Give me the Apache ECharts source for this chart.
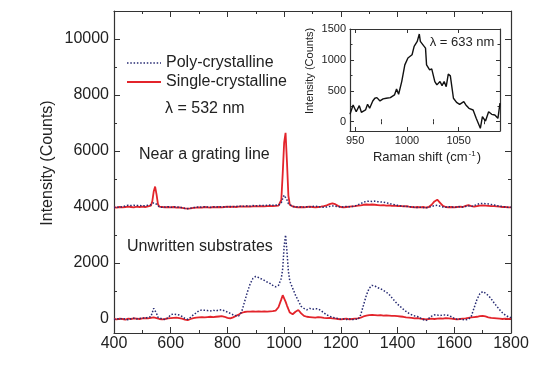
<!DOCTYPE html>
<html>
<head>
<meta charset="utf-8">
<script src="https://cdn.jsdelivr.net/npm/echarts@6/dist/echarts.min.js"></script>
<style>html,body{margin:0;padding:0;background:#fff;}#c{width:544px;height:372px;}</style>
</head>
<body>
<div id="c"></div>
<script>
// Raman shift grid (cm^-1) shared by the 532 nm spectra
const ramanShift = [
  400,410,420,430,440,450,460,470,480,490,500,510,520,530,
  535,540,545,550,555,560,
  570,580,590,600,610,620,630,640,650,660,
  670,680,690,700,710,720,730,740,750,760,
  770,780,790,800,810,820,830,840,850,860,
  870,880,890,900,910,920,930,940,950,960,
  970,980,
  990,995,1000,1005,1010,1015,1020,
  1030,1040,1050,1060,1070,1080,1090,1100,1110,1120,
  1130,1140,1150,1160,1170,1180,1190,1200,1210,1220,
  1230,1240,1250,1260,1270,1280,1290,1300,1310,1320,
  1330,1340,1350,1360,1370,1380,1390,1400,1410,1420,
  1430,1440,1450,1460,1470,1480,1490,1500,1510,1520,
  1530,1540,1550,1560,1570,1580,1590,1600,1610,1620,
  1630,1640,1650,1660,1670,1680,1690,1700,1710,1720,
  1730,1740,1750,1760,1770,1780,1790,1800
];
// Unwritten substrates, poly-crystalline
const polyUnwritten = [
  -20,10,-10,20,0,-30,10,30,0,20,40,30,60,80,
  150,380,420,200,60,20,
  0,-20,40,150,180,160,140,90,20,-10,
  60,150,220,300,320,310,300,290,310,290,
  320,330,290,250,200,150,120,110,250,600,
  950,1250,1450,1520,1480,1430,1380,1320,1270,1200,
  1150,1200,
  1450,1800,2600,3000,2400,1700,1350,
  1100,850,650,450,380,330,380,350,370,360,
  300,220,150,100,60,40,20,-10,0,-20,
  10,-30,0,-20,150,500,850,1100,1200,1180,
  1120,1080,1020,960,880,760,640,530,440,350,
  270,200,150,110,90,40,-20,-60,20,100,
  150,140,120,150,140,130,80,20,-10,0,
  -20,-30,-10,100,400,700,900,980,920,840,
  720,580,450,330,220,140,80,50
];
// Unwritten substrates, single-crystalline
const singleUnwritten = [
  0,-10,10,0,-20,10,0,20,10,0,20,30,20,40,
  50,60,50,30,20,0,
  -10,0,20,30,40,50,30,10,-20,-40,
  0,30,50,60,70,60,70,80,70,80,
  90,100,80,40,20,60,110,160,220,250,
  260,260,270,260,270,260,270,260,270,280,
  300,420,
  700,850,800,620,480,350,230,
  170,260,320,200,110,80,70,60,50,70,
  60,40,30,40,20,10,0,-10,0,10,
  -10,0,10,20,50,90,120,140,150,140,
  130,140,120,130,120,110,110,100,90,80,
  60,50,40,20,30,10,0,-10,0,10,
  0,10,20,10,30,20,10,0,-10,0,
  10,20,40,60,70,80,100,110,90,60,
  40,30,20,10,0,10,0,10
];
// Near a grating line, poly-crystalline (offset spectra)
const polyNearLine = [
  3980,4000,3990,4010,4040,4060,4050,4060,4050,4060,4040,4050,4060,4080,
  4100,4150,4150,4100,4040,4000,
  3990,4000,4010,3990,4000,4010,3990,3980,3950,3940,
  3960,3980,3990,4000,3990,4010,4000,3990,4000,4010,
  4000,4010,4000,4010,4020,4010,4020,4030,4020,4030,
  4040,4030,4050,4040,4050,4060,4050,4060,4070,4060,
  4070,4060,
  4150,4300,4420,4450,4250,4120,4050,
  4020,4000,4010,3990,4000,4010,4000,4020,4030,4010,
  4000,3990,4000,4020,4040,4030,4010,4000,4010,4020,
  4010,4020,4040,4080,4120,4170,4200,4210,4200,4210,
  4190,4180,4170,4150,4130,4100,4080,4060,4040,4030,
  4020,4010,4000,3990,3980,3990,3980,3970,3990,4020,
  4050,4060,4030,4000,3990,4010,4000,3990,4000,4010,
  4000,4020,4040,4020,4050,4090,4120,4130,4120,4110,
  4090,4070,4050,4030,4010,4000,3990,3990
];
// Near a grating line, single-crystalline (offset spectra)
const singleNearLine = [
  3990,3980,4000,3990,4000,4010,4000,3990,4010,4000,4010,4000,4020,4050,
  4200,4550,4730,4450,4100,4010,
  4000,3990,4000,3990,4000,3980,3990,3970,3950,3940,
  3950,3970,3980,3990,3980,4000,3990,3980,4000,3990,
  4000,3990,4000,4010,4000,4010,4000,4010,4020,4010,
  4020,4010,4020,4030,4020,4030,4020,4030,4040,4030,
  4040,4050,
  4250,5200,6300,6650,5600,4400,4080,
  4020,4000,3990,4000,3990,4000,4010,4000,3990,4000,
  4010,4030,4060,4100,4130,4100,4040,4000,3990,4000,
  4010,4020,4030,4050,4060,4080,4090,4080,4090,4080,
  4070,4060,4070,4050,4060,4040,4050,4030,4040,4020,
  4030,4010,4000,3990,4000,3990,4000,3980,4000,4080,
  4200,4260,4150,4040,4000,3990,4000,3990,4000,4010,
  4000,4040,4070,4030,4010,4030,4050,4060,4050,4040,
  4030,4030,4020,4010,4000,4000,3990,3990
];
// Inset: 633 nm spectrum
const inset633Shift = [
  945,948,951,954,956,960,962,964,967,969,971,974,977,980,984,988,990,992,995,998,
  1001,1005,1007,1010,1012,1013,1015,1018,1019,1022,1024,1027,1029,1032,1034,1036,1038,1040,1042,1045,
  1048,1051,1055,1057,1060,1064,1067,1069,1071,1073,1076,1079,1082,1085,1088,1090
];
const inset633Counts = [
  120,271,162,260,153,190,282,218,336,380,390,336,369,380,390,433,531,444,650,920,
  1030,1083,1218,1299,1419,1299,1256,1191,920,839,855,650,596,650,585,650,568,770,742,380,
  314,282,325,271,217,190,55,-26,-107,81,11,162,120,109,55,300
];
// Tick values
const mainYTicks = [0,2000,4000,6000,8000,10000];
const mainYMinor = [1000,3000,5000,7000,9000];
const insetXTicks = [950,1000,1050];
const insetXMinor = [975,1025,1075];
const insetYTicks = [0,500,1000,1500];
const insetYMinor = [250,750,1250];

const FONT = '"Liberation Sans", Arial, sans-serif';
const RED = '#e3242b';
const NAVY = '#262a72';
const AX = '#333';
const pair = (xs, ys) => xs.map((x, i) => [x, ys[i]]);
const plain = v => String(v);

function ax(grid, min, max, pos, opts) {
  return Object.assign({
    gridIndex: grid, type: 'value', min: min, max: max, position: pos,
    axisLine: {show: true, onZero: false, lineStyle: {color: AX, width: 1.2}},
    axisTick: {show: true, inside: true, length: 5, lineStyle: {color: AX, width: 1}},
    axisLabel: {show: false},
    splitLine: {show: false}
  }, opts);
}
const tick = (vals, len) => ({show: true, inside: true, length: len, customValues: vals, lineStyle: {color: AX, width: 1}});
const noLine = {show: false};

const chart = echarts.init(document.getElementById('c'), null, {renderer: 'canvas'});
chart.setOption({
  animation: false,
  backgroundColor: '#fff',
  grid: [
    {left: 114, top: 11, width: 397, height: 322},
    {left: 350, top: 29, width: 150, height: 102, show: true, backgroundColor: '#fff', borderWidth: 0, z: 5}
  ],
  xAxis: [
    ax(0, 400, 1800, 'bottom', {
      interval: 200,
      minorTick: {show: true, splitNumber: 2, length: 3, lineStyle: {color: AX}},
      axisTick: {show: true, inside: true, length: 6, lineStyle: {color: AX}},
      axisLabel: {show: true, fontSize: 16, color: '#222', margin: 3, fontFamily: FONT, formatter: plain}
    }),
    ax(0, 400, 1800, 'top', {
      interval: 200,
      minorTick: {show: true, splitNumber: 2, length: 3, lineStyle: {color: AX}},
      axisTick: {show: true, inside: true, length: 6, lineStyle: {color: AX}}
    }),
    ax(1, 945, 1090, 'bottom', {
      z: 6,
      axisTick: tick(insetXTicks, 4),
      axisLabel: {show: true, customValues: insetXTicks, fontSize: 11, color: '#222', margin: 4, fontFamily: FONT, formatter: plain}
    }),
    ax(1, 945, 1090, 'bottom', {z: 6, axisLine: noLine, axisTick: tick(insetXMinor, 2.5)}),
    ax(1, 945, 1090, 'top', {z: 6, axisTick: tick(insetXTicks, 4)}),
    ax(1, 945, 1090, 'top', {z: 6, axisLine: noLine, axisTick: tick(insetXMinor, 2.5)})
  ],
  yAxis: [
    ax(0, -500, 11000, 'left', {
      axisTick: tick(mainYTicks, 6),
      axisLabel: {show: true, customValues: mainYTicks, fontSize: 16, color: '#222', margin: 5, fontFamily: FONT, formatter: plain}
    }),
    ax(0, -500, 11000, 'left', {axisLine: noLine, axisTick: tick(mainYMinor, 3)}),
    ax(0, -500, 11000, 'right', {axisTick: tick(mainYTicks, 6)}),
    ax(0, -500, 11000, 'right', {axisLine: noLine, axisTick: tick(mainYMinor, 3)}),
    ax(1, -150, 1500, 'left', {
      z: 6,
      axisTick: tick(insetYTicks, 4),
      axisLabel: {show: true, customValues: insetYTicks, fontSize: 11, color: '#222', margin: 4, fontFamily: FONT, formatter: plain}
    }),
    ax(1, -150, 1500, 'left', {z: 6, axisLine: noLine, axisTick: tick(insetYMinor, 2.5)}),
    ax(1, -150, 1500, 'right', {z: 6, axisTick: tick(insetYTicks, 4)}),
    ax(1, -150, 1500, 'right', {z: 6, axisLine: noLine, axisTick: tick(insetYMinor, 2.5)})
  ],
  series: [
    {type: 'line', name: 'Single-crystalline', xAxisIndex: 0, yAxisIndex: 0, data: pair(ramanShift, singleUnwritten),
     showSymbol: false, lineStyle: {color: RED, width: 1.8}},
    {type: 'line', name: 'Single-crystalline', xAxisIndex: 0, yAxisIndex: 0, data: pair(ramanShift, singleNearLine),
     showSymbol: false, lineStyle: {color: RED, width: 1.8}},
    {type: 'line', name: 'Poly-crystalline', xAxisIndex: 0, yAxisIndex: 0, data: pair(ramanShift, polyUnwritten),
     showSymbol: false, lineStyle: {color: NAVY, width: 1.5, type: [1.5, 1.8]}},
    {type: 'line', name: 'Poly-crystalline', xAxisIndex: 0, yAxisIndex: 0, data: pair(ramanShift, polyNearLine),
     showSymbol: false, lineStyle: {color: NAVY, width: 1.5, type: [1.5, 1.8]}},
    {type: 'line', name: '633 nm', xAxisIndex: 2, yAxisIndex: 4, data: pair(inset633Shift, inset633Counts),
     showSymbol: false, z: 6, lineStyle: {color: '#111', width: 1.4}}
  ],
  graphic: [
    {type: 'text', x: 48, y: 163, rotation: Math.PI / 2,
     style: {text: 'Intensity (Counts)', fontSize: 16, fontFamily: FONT, fill: '#222', align: 'center', verticalAlign: 'middle'}},
    {type: 'line', shape: {x1: 127, y1: 63, x2: 161, y2: 63}, style: {stroke: NAVY, lineWidth: 1.5, lineDash: [1.5, 1.8]}},
    {type: 'text', x: 166, y: 63, style: {text: 'Poly-crystalline', fontSize: 16, fontFamily: FONT, fill: '#222', align: 'left', verticalAlign: 'middle'}},
    {type: 'line', shape: {x1: 127, y1: 82, x2: 161, y2: 82}, style: {stroke: RED, lineWidth: 1.8}},
    {type: 'text', x: 166, y: 82, style: {text: 'Single-crystalline', fontSize: 16, fontFamily: FONT, fill: '#222', align: 'left', verticalAlign: 'middle'}},
    {type: 'text', x: 165, y: 109, style: {text: 'λ = 532 nm', fontSize: 16, fontFamily: FONT, fill: '#222', align: 'left', verticalAlign: 'middle'}},
    {type: 'text', x: 139, y: 155, style: {text: 'Near a grating line', fontSize: 16, fontFamily: FONT, fill: '#222', align: 'left', verticalAlign: 'middle'}},
    {type: 'text', x: 127, y: 247, style: {text: 'Unwritten substrates', fontSize: 16, fontFamily: FONT, fill: '#222', align: 'left', verticalAlign: 'middle'}},
    {type: 'text', x: 310, y: 71, rotation: Math.PI / 2, z: 10,
     style: {text: 'Intensity (Counts)', fontSize: 11, fontFamily: FONT, fill: '#222', align: 'center', verticalAlign: 'middle'}},
    {type: 'text', x: 427, y: 157, z: 10,
     style: {text: '{a|Raman shift (cm}{s|-1}{a|)}', align: 'center', verticalAlign: 'middle',
       rich: {a: {fontSize: 13, fontFamily: FONT, fill: '#222'}, s: {fontSize: 8, fontFamily: FONT, fill: '#222', verticalAlign: 'top', padding: [0, 1, 7, 1]}}}},
    {type: 'text', x: 462, y: 42, z: 10,
     style: {text: 'λ = 633 nm', fontSize: 13, fontFamily: FONT, fill: '#222', align: 'center', verticalAlign: 'middle'}}
  ]
});
</script>
</body>
</html>
